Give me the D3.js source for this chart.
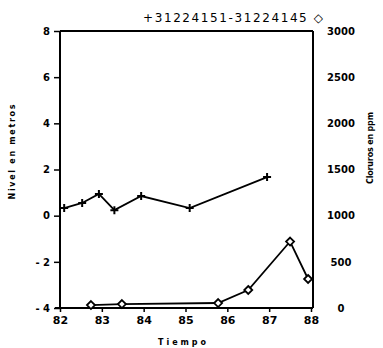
<!DOCTYPE html>
<html><head><meta charset="utf-8">
<script src="https://cdn.jsdelivr.net/npm/d3@7"></script>
<style>body{margin:0;background:#fff}svg{display:block}</style>
</head><body>
<script>
const nivelYears = [82.1, 82.53, 82.93, 83.3, 83.94, 85.1, 86.95];
const nivelValues = [0.33, 0.55, 0.94, 0.24, 0.85, 0.33, 1.67];
const clorYears = [82.74, 83.48, 85.78, 86.5, 87.5, 87.93];
const clorValues = [32, 43, 54, 195, 720, 314];
const xTicks = [82, 83, 84, 85, 86, 87, 88];
const xTickLabels = ["82", "83", "84", "85", "86", "87", "88"];
const yLeftTicks = [-4, -2, 0, 2, 4, 6, 8];
const yRightTicks = [0, 500, 1000, 1500, 2000, 2500, 3000];
const title = "+31224151-31224145 \u25C7";

const W = 383, H = 348;
const L = 60, R = 311, T = 31, B = 308;
const svg = d3.select("body").append("svg").attr("width", W).attr("height", H);
const x = d3.scaleLinear().domain([82, 88]).range([L, R]);
const yL = d3.scaleLinear().domain([-4, 8]).range([B, T]);
const yR = d3.scaleLinear().domain([0, 3000]).range([B, T]);
const font = "DejaVu Sans, sans-serif";

// frame lines
svg.append("line").attr("x1", L).attr("x2", L).attr("y1", T).attr("y2", B).attr("stroke", "#000").attr("stroke-width", 2);
svg.append("line").attr("x1", L).attr("x2", R + 2).attr("y1", T).attr("y2", T).attr("stroke", "#000").attr("stroke-width", 2);
svg.append("line").attr("x1", R + 2).attr("x2", R + 2).attr("y1", T).attr("y2", B).attr("stroke", "#000").attr("stroke-width", 2);
svg.append("line").attr("x1", L - 5).attr("x2", R + 2).attr("y1", B).attr("y2", B).attr("stroke", "#000").attr("stroke-width", 2);

// left axis
const gL = svg.append("g").attr("transform", `translate(${L},0)`)
  .call(d3.axisLeft(yL).tickValues(yLeftTicks).tickSize(6).tickPadding(4).tickFormat(d => d < 0 ? "- " + Math.abs(d) : d));
gL.select(".domain").remove();
gL.selectAll("line").attr("stroke-width", 1.5);
gL.selectAll("text").attr("font-family", font).attr("font-weight", "bold").attr("font-size", 10);

// right axis labels
const gR = svg.append("g").attr("transform", `translate(${R + 2},0)`)
  .call(d3.axisRight(yR).tickValues(yRightTicks).tickSize(0).tickPadding(28).tickFormat(d => String(d)));
gR.select(".domain").remove();
gR.selectAll("text").attr("text-anchor", "middle").attr("font-family", font).attr("font-weight", "bold").attr("font-size", 10);

// bottom axis
const gB = svg.append("g").attr("transform", `translate(0,${B})`)
  .call(d3.axisBottom(x).tickValues(xTicks).tickSize(4).tickPadding(4).tickFormat((d, i) => xTickLabels[i]));
gB.select(".domain").remove();
gB.selectAll("line").attr("stroke-width", 1.5);
gB.selectAll("text").attr("font-family", font).attr("font-weight", "bold").attr("font-size", 11);

// series 1: nivel
const n = nivelYears.map((d, i) => [d, nivelValues[i]]);
svg.append("path").datum(n).attr("fill", "none").attr("stroke", "#000").attr("stroke-width", 1.8)
  .attr("d", d3.line().x(d => x(d[0])).y(d => yL(d[1])));
svg.append("g").selectAll("path").data(n).join("path")
  .attr("transform", d => `translate(${x(d[0])},${yL(d[1])})`)
  .attr("d", "M-4,0H4M0,-4V4").attr("stroke", "#000").attr("stroke-width", 2);

// series 2: cloruros
const c = clorYears.map((d, i) => [d, clorValues[i]]);
svg.append("path").datum(c).attr("fill", "none").attr("stroke", "#000").attr("stroke-width", 1.8)
  .attr("d", d3.line().x(d => x(d[0])).y(d => yR(d[1])));
svg.append("g").selectAll("path").data(c).join("path")
  .attr("transform", d => `translate(${x(d[0])},${yR(d[1])})`)
  .attr("d", "M0,-4L4,0L0,4L-4,0Z").attr("fill", "#fff").attr("stroke", "#000").attr("stroke-width", 1.8);

// titles
svg.append("text").attr("x", 233).attr("y", 22).attr("text-anchor", "middle")
  .attr("font-family", font).attr("font-size", 12).attr("textLength", 180).text(title);
svg.append("text").attr("transform", "translate(15,152) rotate(-90)").attr("text-anchor", "middle")
  .attr("font-family", font).attr("font-weight", "bold").attr("font-size", 8).attr("textLength", 95).text("Nivel en metros");
svg.append("text").attr("transform", "translate(373,148) rotate(-90)").attr("text-anchor", "middle")
  .attr("font-family", font).attr("font-weight", "bold").attr("font-size", 8).attr("textLength", 72).text("Cloruros en ppm");
svg.append("text").attr("x", 182).attr("y", 345).attr("text-anchor", "middle")
  .attr("font-family", font).attr("font-weight", "bold").attr("font-size", 8).attr("textLength", 48).text("Tiempo");
</script>
</body></html>
